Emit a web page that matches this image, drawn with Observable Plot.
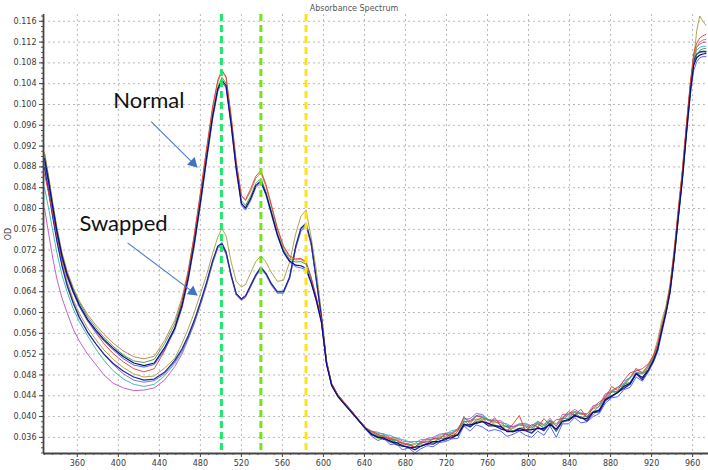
<!DOCTYPE html>
<html><head><meta charset="utf-8">
<script src="https://cdn.jsdelivr.net/npm/d3@7"></script>
<script src="https://cdn.jsdelivr.net/npm/@observablehq/plot@0.6"></script>
<style>html,body{margin:0;padding:0;background:#fff}#chart svg{display:block}</style>
</head><body><div id="chart"></div>
<script>
// Wavelengths (nm) shared by all spectra
const wavelengths = [
 328,332,336,340,345,350,356,362,370,378,386,395,405,415,425,435,445,455,462,468,
 474,480,486,492,497,501,505,510,515,520,524,529,534,539,544,549,555,561,567,573,
 578,583,588,593,598,603,608,614,620,627,634,641,
 647,653,659,665,671,677,683,689,695,701,707,713,719,725,731,737,743,749,755,761,
 767,773,779,785,791,797,803,809,815,821,827,833,839,845,851,857,863,869,875,881,
 887,893,899,905,911,917,
 922,926,930,934,938,942,946,950,954,958,961,964,967,970,973];

// OD values in units of 0.0001
const normalBrown = [908,862,812,765,716,680,648,622,596,576,558,541,526,515,511,516,546,585,628,680,
 748,828,912,993,1043,1063,1052,975,888,825,815,833,858,869,842,806,761,726,707,701,
 702,696,666,628,585,503,462,441,427,411,394,378,
 371,364,364,358,357,350,346,347,349,356,356,361,362,368,374,390,391,395,395,394,
 388,389,379,377,384,383,378,389,382,391,382,397,405,409,404,405,415,419,442,447,
 455,461,474,492,483,499,
 516,538,575,609,650,715,793,868,958,1040,1090,1110,1120,1124,1125];
const normalRed = [866,830,790,748,703,668,638,612,584,561,540,521,505,492,486,492,526,570,620,676,
 748,830,915,997,1047,1066,1054,978,890,824,817,838,862,873,846,809,763,728,709,703,
 704,698,668,630,587,505,463,442,428,412,395,379,
 372,366,361,357,355,348,345,341,352,348,358,356,368,360,372,400,386,402,398,385,
 398,382,372,386,402,372,385,380,396,384,394,396,410,402,414,398,418,428,436,458,
 450,470,484,488,492,502,
 518,540,574,598,650,716,795,872,962,1045,1098,1118,1128,1132,1135];
const normalGreen = [902,858,808,760,712,676,645,619,592,571,552,535,518,507,504,510,540,578,621,673,
 740,818,902,983,1033,1052,1041,966,880,815,806,824,848,858,832,797,754,721,703,697,
 698,693,664,627,584,502,461,440,426,410,394,378,
 368,361,363,355,354,347,348,342,348,353,351,357,359,367,366,392,383,393,398,394,
 384,379,381,372,377,380,374,387,378,393,372,396,397,408,398,401,410,413,432,447,
 447,462,466,483,482,490,
 512,532,568,603,644,708,785,860,948,1030,1078,1095,1104,1107,1108];
const normalBlue = [890,848,800,754,706,670,638,611,584,563,545,528,511,499,495,500,528,566,608,660,
 727,805,890,972,1025,1043,1032,958,872,806,797,815,840,850,825,790,748,715,697,688,
 686,682,656,622,580,500,459,438,424,408,392,376,
 362,354,358,346,348,336,340,330,338,344,342,350,352,357,358,382,372,384,380,372,
 375,372,362,366,372,364,360,372,364,382,360,386,386,398,388,390,400,406,426,436,
 438,452,456,476,468,486,
 505,525,560,596,636,700,778,852,940,1020,1065,1082,1090,1092,1092];
const normalNavy = [896,852,803,757,709,673,641,614,587,566,548,531,515,503,498,503,532,570,613,665,
 733,812,897,978,1030,1047,1036,962,876,810,801,819,844,853,828,793,750,717,699,691,
 690,685,658,624,582,501,460,439,425,409,393,377,
 366,360,359,352,350,344,340,341,343,347,352,352,358,359,365,384,384,387,390,387,
 382,381,371,371,377,374,375,377,377,385,376,391,394,403,397,396,408,412,433,440,
 446,458,464,483,475,490,
 508,530,566,600,640,706,782,856,945,1028,1075,1090,1095,1097,1098];
const swappedOlive = [905,855,800,750,698,660,625,598,570,548,528,510,494,482,476,478,493,512,540,568,
 600,636,672,714,745,761,748,697,660,649,654,676,698,709,697,678,660,662,697,752,
 785,797,745,682,600,508,464,442,428,412,395,379,
 365,358,358,350,348,345,340,340,346,346,351,351,357,364,366,382,382,391,393,385,
 384,377,375,373,378,376,370,380,375,389,374,387,397,400,400,393,403,414,434,439,
 447,455,463,484,470,498,
 520,548,585,612,655,722,800,875,962,1046,1084,1142,1170,1160,1152];
const swappedSlate = [885,838,788,740,692,655,620,592,563,540,519,500,482,470,466,469,482,505,527,552,
 582,617,655,698,727,735,718,673,637,627,633,653,673,688,676,657,641,641,669,727,
 760,770,733,663,591,504,461,440,426,410,393,377,
 367,365,357,357,350,350,346,341,350,351,357,358,365,367,374,390,391,400,400,392,
 391,384,381,380,384,382,378,386,378,392,382,394,403,404,407,399,409,420,435,448,
 448,461,474,485,483,495,
 514,534,571,604,645,711,789,864,952,1034,1080,1096,1100,1101,1100];
const swappedDarkBlue = [878,832,784,738,690,652,618,590,562,540,520,502,487,476,470,472,485,508,530,555,
 585,620,658,700,728,732,716,672,636,626,632,652,672,687,675,656,640,640,668,728,
 762,772,735,665,592,505,462,441,427,411,394,378,
 365,362,356,354,346,343,342,336,343,348,347,353,355,363,364,386,380,389,391,382,
 382,376,373,371,374,373,368,379,373,387,372,391,392,401,399,391,408,409,431,438,
 447,454,462,482,471,489,
 510,530,567,601,641,707,785,860,950,1034,1084,1097,1101,1102,1102];
const swappedTeal = [840,800,758,715,672,640,607,582,555,530,508,488,472,462,458,462,478,502,524,550,
 580,615,653,696,725,730,714,670,634,624,630,650,670,685,673,654,638,638,666,724,
 757,768,731,662,590,503,461,440,426,410,393,377,
 372,370,365,364,358,356,352,348,356,356,357,364,366,373,375,397,392,402,403,393,
 394,388,386,379,386,385,381,390,385,393,386,399,406,410,407,405,416,424,439,450,
 457,464,476,489,485,498,
 515,536,573,606,647,713,791,866,955,1038,1088,1104,1110,1112,1112];
const swappedMagenta = [800,752,705,665,628,600,568,545,520,500,480,464,455,450,451,455,470,496,520,548,
 578,614,652,695,724,728,712,669,633,623,629,649,669,684,672,653,637,637,665,723,
 756,767,730,661,590,503,461,440,426,410,393,377,
 370,368,367,360,360,353,351,352,352,358,360,366,368,369,377,395,396,406,404,394,
 392,392,383,381,386,387,382,391,384,397,381,404,405,414,406,404,421,423,444,449,
 456,468,475,493,484,500,
 518,537,574,607,648,714,792,866,956,1040,1092,1110,1116,1119,1120];

const seriesValues = [swappedMagenta, swappedTeal, swappedSlate, swappedOlive, swappedDarkBlue,
  normalBrown, normalGreen, normalRed, normalBlue, normalNavy];
const seriesColors = ["#c24cc6", "#2fb3b0", "#6868d0", "#a49c3a", "#23239c",
  "#c27a44", "#2f9e3a", "#e23a2e", "#3f55ff", "#0a0a7a"];

const markerWavelengths = [500.5, 539, 583];
const markerColors = ["#1ee86c", "#72e418", "#ffe21a"];

const yTicks = [0.036,0.040,0.044,0.048,0.052,0.056,0.060,0.064,0.068,0.072,0.076,0.080,
  0.084,0.088,0.092,0.096,0.100,0.104,0.108,0.112,0.116];
const xTicks = [360,400,440,480,520,560,600,640,680,720,760,800,840,880,920,960];

const labels = ["Normal", "Swapped"];
const labelX = [395, 362];
const labelY = [0.1006, 0.0771];
const arrowFromX = [432, 409], arrowFromY = [0.0967, 0.0734];
const arrowToX = [477, 477], arrowToY = [0.0879, 0.0633];

const xDomain = [327, 975.5];
const yDomain = [0.0329, 0.1173];

const minorY = d3.range(33, 118).map(v => v / 1000);
const minorX = d3.range(328, 976, 8);

const lineMarks = seriesValues.map((vals, k) =>
  Plot.line(wavelengths.map((w, i) => ({wl: w, od: vals[i] / 10000})),
    {x: "wl", y: "od", stroke: seriesColors[k], strokeWidth: k === 9 || k === 4 ? 1.2 : 0.9}));

const ruleMarks = markerWavelengths.map((w, i) =>
  Plot.ruleX([w], {stroke: markerColors[i], strokeWidth: 3, strokeDasharray: "7,4"}));

const ann = labels.map((t, i) => ({t, x: labelX[i], y: labelY[i]}));
const arrows = labels.map((t, i) => ({x1: arrowFromX[i], y1: arrowFromY[i], x2: arrowToX[i], y2: arrowToY[i]}));

const chart = Plot.plot({
  width: 708, height: 470,
  marginLeft: 43, marginRight: 0, marginTop: 14, marginBottom: 17,
  x: {domain: xDomain},
  y: {domain: yDomain},
  style: {fontFamily: "DejaVu Sans", fontSize: "8px", background: "#fff", color: "#333"},
  marks: [
    Plot.gridY(yTicks, {stroke: "#b8b8b8", strokeOpacity: 1, strokeDasharray: "2,3"}),
    Plot.gridX(xTicks, {stroke: "#b8b8b8", strokeOpacity: 1, strokeDasharray: "2,3"}),
    ...lineMarks,
    ...ruleMarks,
    Plot.axisY(minorY, {tickSize: 2, tickFormat: () => "", label: null, stroke: "#555"}),
    Plot.axisX(minorX, {tickSize: 2, tickFormat: () => "", label: null, stroke: "#555"}),
    Plot.axisY(yTicks, {tickSize: 4, tickPadding: 3, tickFormat: d3.format(".3f"), fill: "#3a3a3a", stroke: "#444",
      label: "OD", labelAnchor: "center", labelOffset: 38, labelArrow: "none"}),
    Plot.axisX(xTicks, {tickSize: 4, tickPadding: 3, fill: "#3a3a3a", stroke: "#444", label: null}),
    Plot.ruleX([xDomain[0]], {stroke: "#444", strokeWidth: 1.8}),
    Plot.ruleY([yDomain[0]], {stroke: "#444", strokeWidth: 1.8}),
    Plot.text(["Absorbance Spectrum"], {text: d => d, frameAnchor: "top", dx: -22, dy: -9, fontSize: 8, fill: "#555"}),
    Plot.text(ann, {x: "x", y: "y", text: "t", textAnchor: "start", fontSize: 22, fontFamily: "Lato", fill: "#111"}),
    Plot.link(arrows, {x1: "x1", y1: "y1", x2: "x2", y2: "y2", stroke: "#4a7cc6", strokeWidth: 1.1}),
    Plot.dot([arrows[0]], {x: "x2", y: "y2", symbol: "triangle", r: 4, fill: "#3f72c2", stroke: "none", rotate: 135, dx: -4.3, dy: -4.3}),
    Plot.dot([arrows[1]], {x: "x2", y: "y2", symbol: "triangle", r: 4, fill: "#3f72c2", stroke: "none", rotate: 127, dx: -4.8, dy: -3.6})
  ]
});
document.getElementById("chart").appendChild(chart);
</script>
</body></html>
